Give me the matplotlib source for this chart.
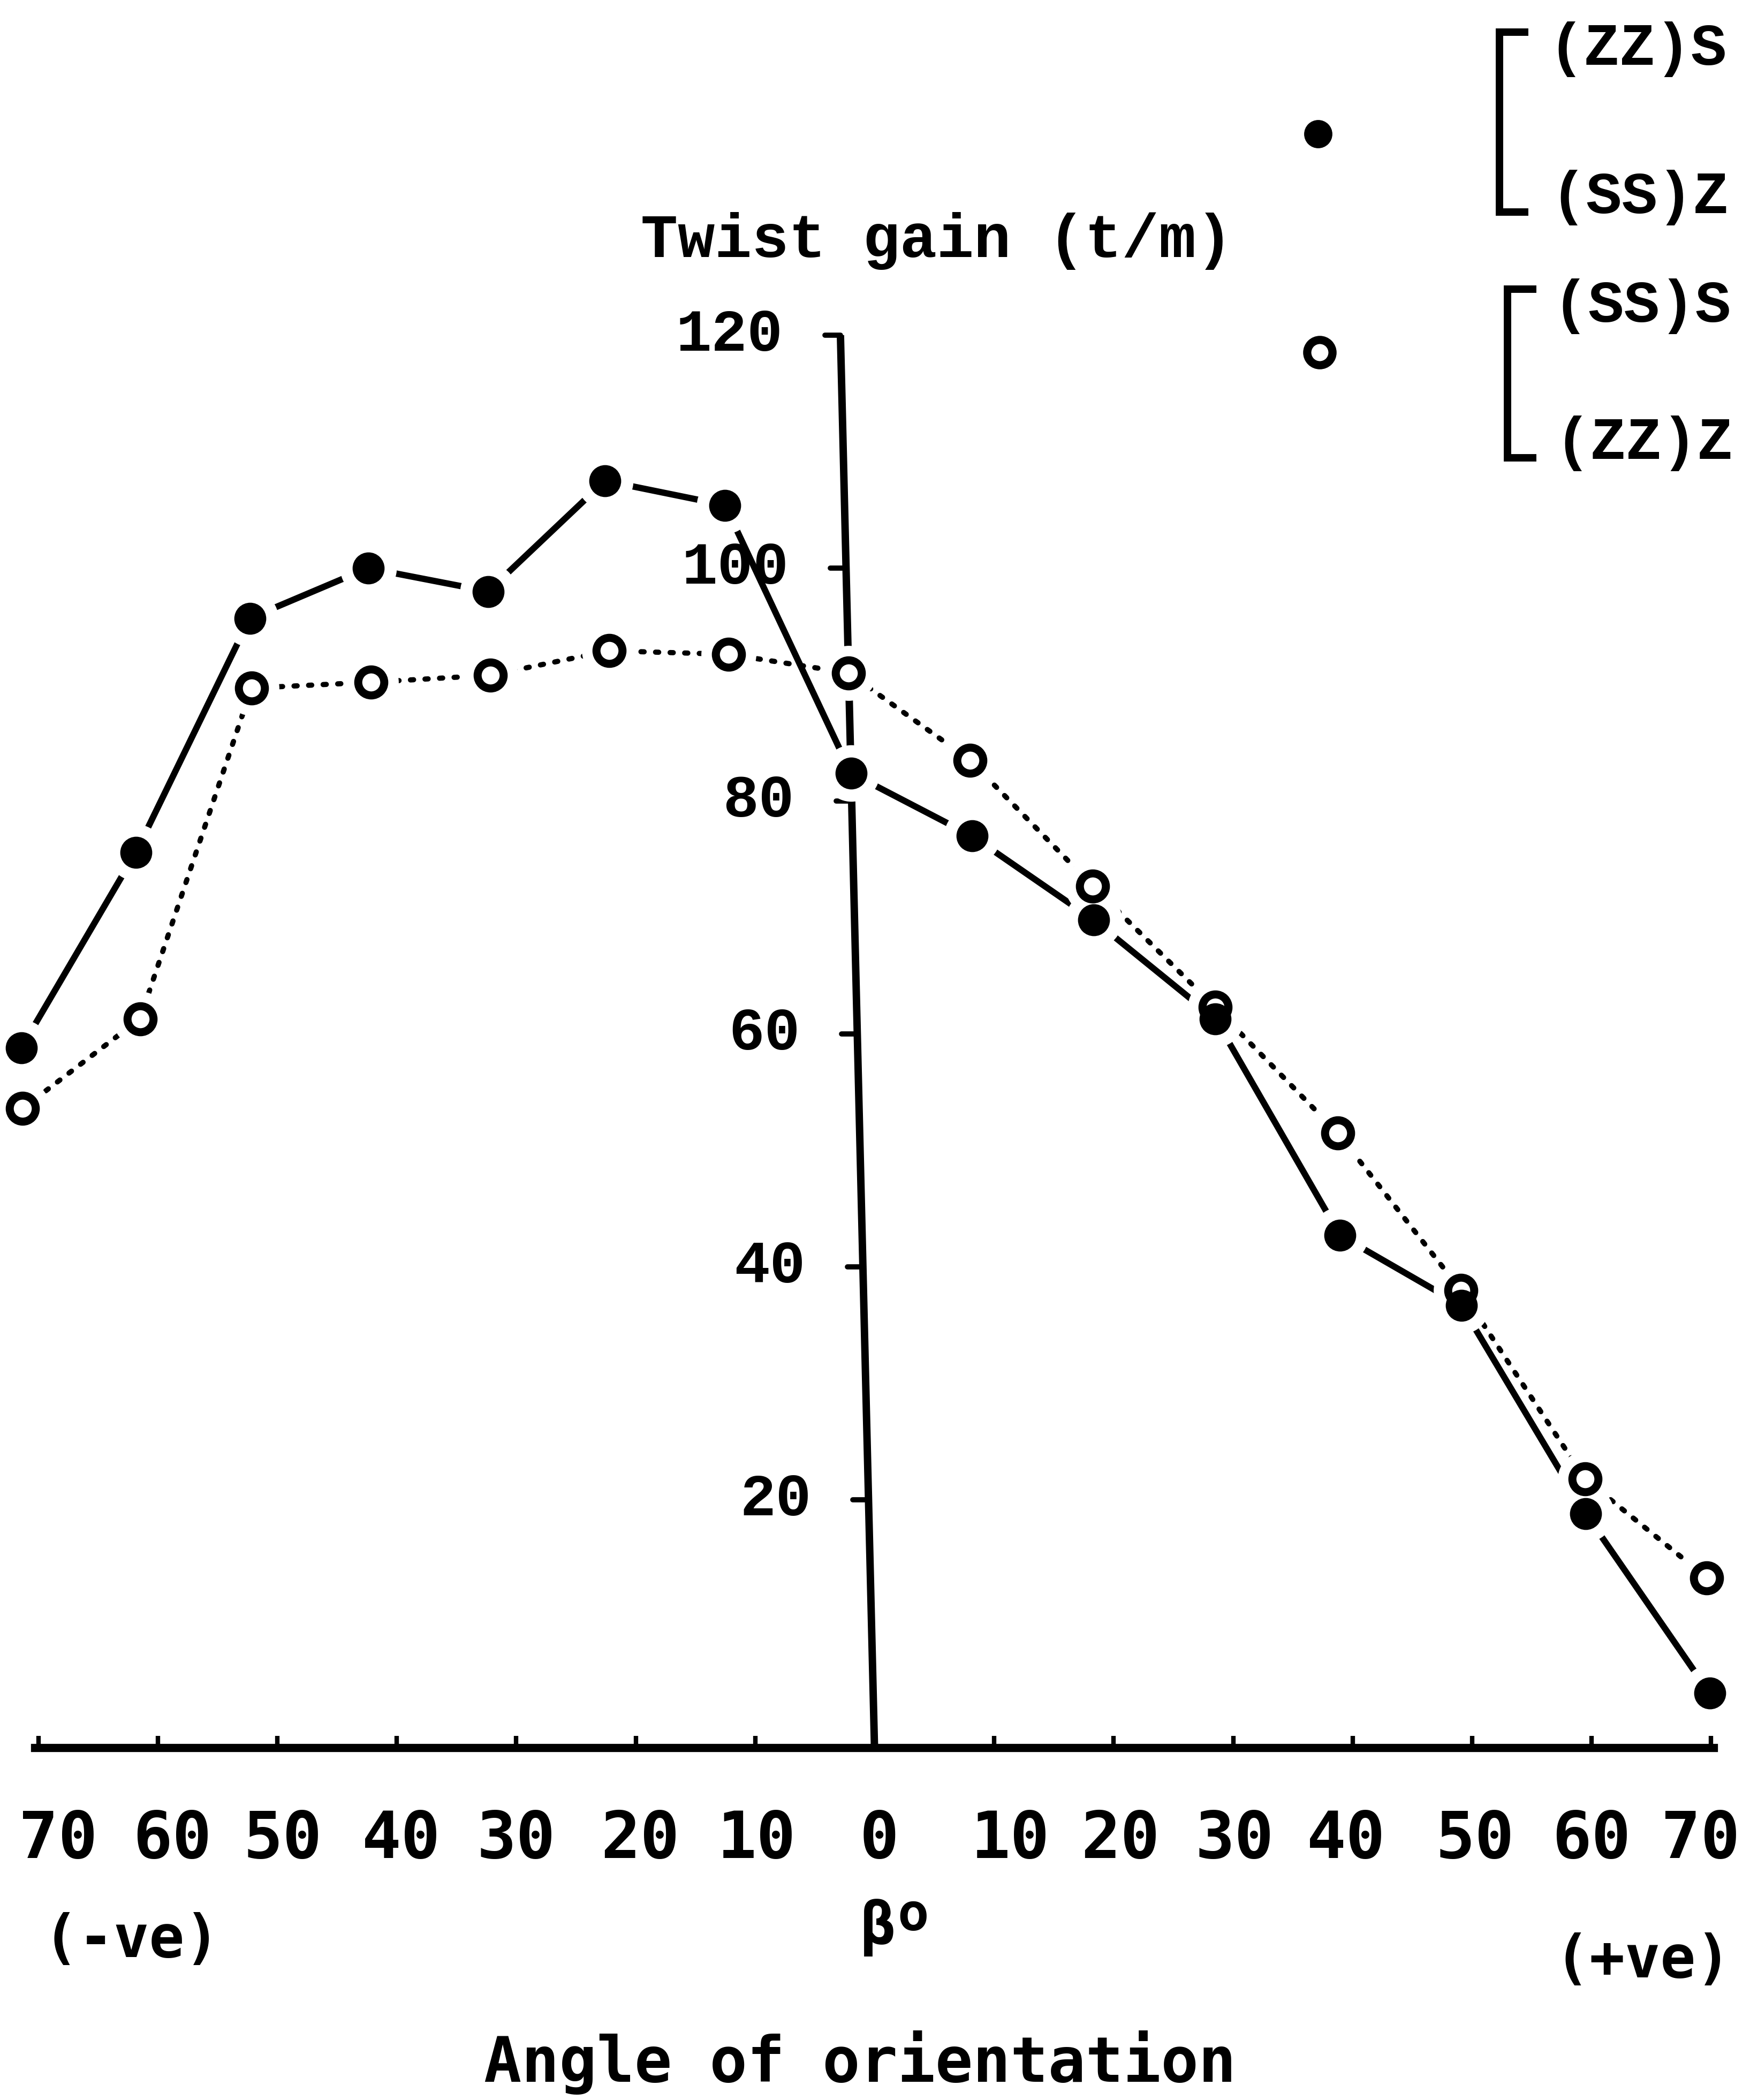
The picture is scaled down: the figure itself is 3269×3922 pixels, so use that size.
# 捻度增益 - 取向角曲线
# 两组纱线结构：实心点 (ZZ)S/(SS)Z，空心点 (SS)S/(ZZ)Z
import numpy as np
import matplotlib
matplotlib.use("Agg")
import matplotlib.pyplot as plt
import matplotlib.transforms as mtransforms
from matplotlib.lines import Line2D

# 数据
angles = [-70, -60, -50, -40, -30, -20, -10, 0, 10, 20, 30, 40, 50, 60, 70]
gain_zzs_ssz = [58.8, 75.6, 95.7, 100.0, 98.0, 107.5, 105.4, 82.4, 77.0, 69.8, 61.3, 42.7, 36.7, 18.8, 3.4]
gain_sss_zzz = [53.6, 61.3, 89.7, 90.2, 90.8, 92.9, 92.6, 91.0, 83.5, 72.7, 62.3, 51.5, 38.0, 21.8, 13.3]

x_ticks = [-70, -60, -50, -40, -30, -20, -10, 0, 10, 20, 30, 40, 50, 60, 70]
x_tick_labels = ['70', '60', '50', '40', '30', '20', '10', '0',
                 '10', '20', '30', '40', '50', '60', '70']
y_ticks = [20, 40, 60, 80, 100, 120]
legend_filled = ['(ZZ)S', '(SS)Z']
legend_open = ['(SS)S', '(ZZ)Z']

# 打字机排版的标签有些偏移（像素）
label_nudge_px = [37, 27, 10, 8, 0, 8, 3, 8, 30, 12, 3, -12, 5, 0, -20]

W, H = 3269, 3922
MONO = 'Liberation Mono'
SANS_MONO = 'DejaVu Sans Mono'
NARROW = ['Liberation Sans Narrow', 'DejaVu Sans Mono']


def px(x, y):
    # 像素坐标（左上为原点）-> figure 坐标
    return x / W, 1 - y / H


fig = plt.figure(figsize=(W / 100, H / 100), dpi=100)
ax = fig.add_axes([0, 0, 1, 1])

# 1. 坐标范围：0° 在 x=1634px，每度 22.32px；0 t/m 在 y=3236px，每单位 21.75px
x0, sx = 1634, 22.32
y0, sy = 3236, 21.75
ax.set_xlim(-x0 / sx, (W - x0) / sx)
ax.set_ylim((y0 - H) / sy, y0 / sy)

# 原图纵轴略有倾斜，用剪切变换画曲线和纵轴
skew = mtransforms.Affine2D(np.array([[1.0, -0.0235, -0.05],
                                      [0.0, 1.0, 0.0],
                                      [0.0, 0.0, 1.0]]))
tr = skew + ax.transData

# 2. 纵轴及刻度
ax.plot([0, 0], [-1.3, 120], color='black', lw=10, transform=tr,
        solid_capstyle='butt', zorder=1.5)
for v in y_ticks:
    ax.plot([-1.3, 0], [v, v], color='black', lw=7, transform=tr,
            solid_capstyle='round', zorder=1.5)
    ax.text(-4.8, v, str(v), transform=tr, ha='right', va='center',
            fontfamily=MONO, fontweight='bold', fontsize=80, zorder=6)

# 3. 横轴
for s in ['left', 'right', 'top']:
    ax.spines[s].set_visible(False)
ax.spines['bottom'].set_position(('data', -1.3))
ax.spines['bottom'].set_bounds(-70.3, 70.2)
ax.spines['bottom'].set_linewidth(11)
ax.set_xticks(x_ticks, x_tick_labels, fontfamily=NARROW,
              fontweight='bold', fontsize=88)
ax.tick_params(axis='x', direction='in', length=16, width=6, pad=82)
ax.set_yticks([])
for tick, dx in zip(ax.xaxis.get_major_ticks(), label_nudge_px):
    tick.label1.set_transform(tick.label1.get_transform() +
                              mtransforms.ScaledTranslation(dx / 100, 0, fig.dpi_scale_trans))

# 4. 曲线：线段在数据点附近断开（白色底圈）
ax.plot(angles, gain_zzs_ssz, color='black', lw=8.5, transform=tr,
        solid_capstyle='round', zorder=2)
ax.plot(angles, gain_sss_zzz, color='black', lw=7, transform=tr,
        linestyle=(0, (0.6, 2.2)), dash_capstyle='round', zorder=2)
ax.plot(angles, gain_zzs_ssz, 'o', ms=76, mfc='white', mec='none',
        transform=tr, zorder=3)
ax.plot(angles, gain_sss_zzz, 'o', ms=74, mfc='white', mec='none',
        transform=tr, zorder=3)
ax.plot(angles, gain_zzs_ssz, 'o', ms=43, mfc='black', mec='none',
        transform=tr, zorder=4)
ax.plot(angles, gain_sss_zzz, 'o', ms=35, mfc='none', mec='black',
        mew=10.8, transform=tr, zorder=5)

# 5. 文字
fig.text(*px(1750, 450), 'Twist gain (t/m)', ha='center', va='center',
         fontfamily=MONO, fontweight='bold', fontsize=83)
fig.text(*px(246, 3625), '(-ve)', ha='center', va='center',
         fontfamily=SANS_MONO, fontweight='bold', fontsize=79)
fig.text(*px(3069, 3662), '(+ve)', ha='center', va='center',
         fontfamily=SANS_MONO, fontweight='bold', fontsize=79)
fig.text(*px(1640, 3600), 'β', ha='center', va='center',
         fontfamily=SANS_MONO, fontweight='bold', fontsize=80)
fig.text(*px(1706, 3578), 'o', ha='center', va='center',
         fontfamily=SANS_MONO, fontweight='bold', fontsize=70)
fig.text(*px(1606, 3852), 'Angle of orientation', ha='center', va='center',
         fontfamily=SANS_MONO, fontweight='bold', fontsize=84)

# 6. 图例：圆点 + 方括号 + 两行标签
fig.add_artist(Line2D([2462 / W], [1 - 250 / H], marker='o', ms=38,
                      mfc='black', mec='none', transform=fig.transFigure))
fig.add_artist(Line2D([2465 / W], [1 - 658 / H], marker='o', ms=34,
                      mfc='white', mec='black', mew=11, transform=fig.transFigure))

for (xa, xb, ytop, ybot), labels, xt in [((2848, 2801, 60, 396), legend_filled, 2892),
                                         ((2863, 2816, 540, 855), legend_open, 2900)]:
    xs = [xa, xb, xb, xa]
    ys = [ytop, ytop, ybot, ybot]
    fig.add_artist(Line2D([x / W for x in xs], [1 - y / H for y in ys],
                          color='black', lw=10, solid_joinstyle='miter',
                          transform=fig.transFigure))
    fig.text(*px(xt, ytop + 32), labels[0], ha='left', va='center',
             fontfamily=MONO, fontweight='bold', fontsize=80)
    fig.text(*px(xt + 4, ybot - 27), labels[1], ha='left', va='center',
             fontfamily=MONO, fontweight='bold', fontsize=80)

fig.savefig('out.png', dpi=100, facecolor='white')
